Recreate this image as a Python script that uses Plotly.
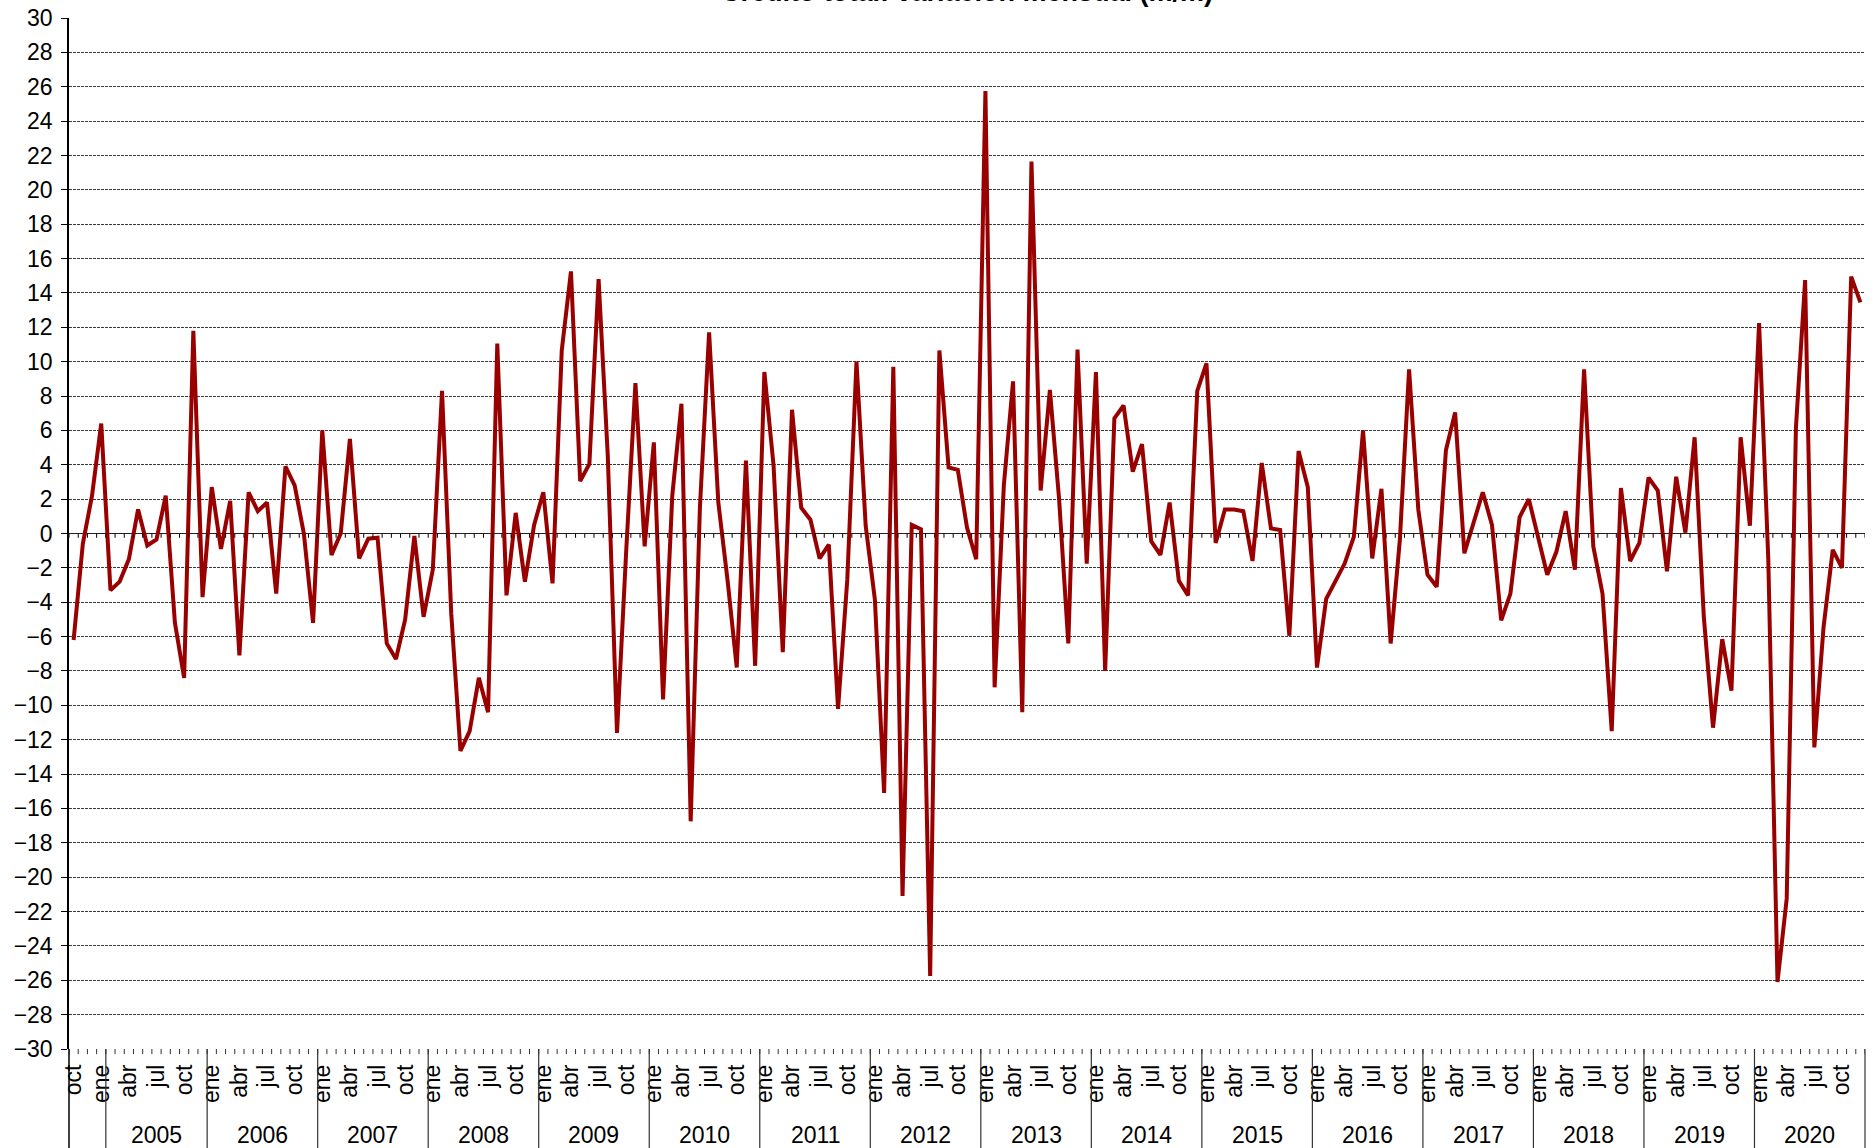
import plotly.graph_objects as go

# ---------------- data ----------------
month_abbr = ["ene", "feb", "mar", "abr", "may", "jun", "jul", "ago", "sep", "oct", "nov", "dic"]
start_month = 10  # series starts in October 2004
years = [2005, 2006, 2007, 2008, 2009, 2010, 2011, 2012, 2013, 2014, 2015, 2016, 2017, 2018, 2019, 2020]

v2004 = [-6.2, -0.6, 2.2]
v2005 = [6.4, -3.3, -2.8, -1.5, 1.4, -0.7, -0.35, 2.2, -5.2, -8.4, 11.8, -3.7]
v2006 = [2.7, -0.9, 1.9, -7.1, 2.4, 1.3, 1.8, -3.5, 3.9, 2.8, 0.0, -5.2]
v2007 = [6.0, -1.25, 0.0, 5.5, -1.45, -0.3, -0.25, -6.4, -7.3, -5.0, -0.15, -4.85]
v2008 = [-2.1, 8.3, -4.65, -12.65, -11.5, -8.4, -10.4, 11.05, -3.6, 1.2, -2.8, 0.5]
v2009 = [2.4, -2.9, 10.65, 15.25, 3.05, 4.05, 14.8, 4.5, -11.6, -1.0, 8.75, -0.75]
v2010 = [5.3, -9.65, 2.2, 7.55, -16.75, 1.5, 11.7, 1.8, -2.7, -7.8, 4.25, -7.7]
v2011 = [9.4, 3.95, -6.9, 7.2, 1.5, 0.8, -1.45, -0.65, -10.2, -2.7, 10.0, 0.45]
v2012 = [-3.85, -15.1, 9.7, -21.1, 0.5, 0.25, -25.75, 10.65, 3.85, 3.7, 0.35, -1.5]
v2013 = [25.75, -8.95, 2.8, 8.85, -10.4, 21.65, 2.5, 8.35, 2.0, -6.4, 10.7, -1.75]
v2014 = [9.4, -8.0, 6.7, 7.45, 3.6, 5.2, -0.45, -1.25, 1.8, -2.75, -3.6, 8.3]
v2015 = [9.9, -0.55, 1.4, 1.4, 1.3, -1.6, 4.1, 0.3, 0.2, -5.95, 4.8, 2.7]
v2016 = [-7.8, -3.8, -2.8, -1.75, -0.2, 6.0, -1.45, 2.6, -6.4, -0.35, 9.55, 1.4]
v2017 = [-2.4, -3.1, 4.85, 7.05, -1.15, 0.55, 2.4, 0.5, -5.05, -3.5, 0.95, 2.0]
v2018 = [-0.15, -2.4, -1.05, 1.3, -2.1, 9.55, -0.75, -3.5, -11.5, 2.65, -1.6, -0.55]
v2019 = [3.25, 2.5, -2.2, 3.3, 0.05, 5.6, -4.85, -11.3, -6.15, -9.15, 5.6, 0.45]
v2020 = [12.25, -1.5, -26.1, -21.25, 6.15, 14.75, -12.45, -5.45, -0.95, -2.0, 14.95, 13.45]

title_text = "Crédito total: variación mensual (m/m)"

# ---------------- build ----------------
values = (v2004 + v2005 + v2006 + v2007 + v2008 + v2009 + v2010 + v2011 + v2012
          + v2013 + v2014 + v2015 + v2016 + v2017 + v2018 + v2019 + v2020)
n = len(values)
x = list(range(n))
month_of = [(start_month - 1 + i) % 12 for i in range(n)]
tickvals = [i for i in range(n) if i % 3 == 0]
ticktext = [month_abbr[month_of[i]] for i in tickvals]

jan_idx = [i for i in range(n) if month_of[i] == 0]
# group boundaries (category index where each labelled year group starts)
group_start = [jan_idx[0] + 1] + jan_idx[1:]
group_end = jan_idx[1:] + [n]

FONT = "Liberation Sans, Arial, sans-serif"
FS = 23
LINE_COLOR = "#990000"

fig = go.Figure()
fig.add_trace(go.Scatter(x=x, y=values, mode="lines",
                         line=dict(color=LINE_COLOR, width=4),
                         hoverinfo="skip", showlegend=False))

shapes = []
# small tick marks on the zero (category) axis and along the bottom
for j in range(n + 1):
    shapes.append(dict(type="line", xref="x", yref="y", x0=j - 0.5, x1=j - 0.5,
                       y0=0, y1=-0.25, line=dict(color="black", width=1)))
    shapes.append(dict(type="line", xref="x", yref="paper", x0=j - 0.5, x1=j - 0.5,
                       y0=0, y1=-0.005, line=dict(color="#333", width=1)))
# year-group separator lines
for b in group_start:
    shapes.append(dict(type="line", xref="x", yref="paper", x0=b - 0.5, x1=b - 0.5,
                       y0=0, y1=-0.11, line=dict(color="#333", width=1.2)))
# left axis extension and right edge
shapes.append(dict(type="line", xref="paper", yref="paper", x0=0, x1=0, y0=0, y1=-0.11,
                   line=dict(color="black", width=1.5)))
shapes.append(dict(type="line", xref="paper", yref="paper", x0=1, x1=1, y0=0, y1=-0.11,
                   line=dict(color="#333", width=1.2)))

annotations = []
for yr, s, e in zip(years, group_start, group_end):
    annotations.append(dict(x=(s + e - 1) / 2, y=-0.0836, xref="x", yref="paper",
                            text=str(yr), showarrow=False, yanchor="middle",
                            font=dict(family=FONT, size=FS, color="black")))
annotations.append(dict(x=0.5, y=1.0, xref="paper", yref="paper", text="<b>" + title_text + "</b>",
                        showarrow=False, yanchor="bottom", yshift=9,
                        font=dict(family=FONT, size=27, color="black")))

fig.update_layout(
    width=1872, height=1148,
    margin=dict(l=69, r=7, t=18, b=99, autoexpand=False),
    paper_bgcolor="white", plot_bgcolor="white",
    font=dict(family=FONT, size=FS, color="black"),
    shapes=shapes, annotations=annotations,
    showlegend=False,
)
fig.update_xaxes(range=[-0.5, n - 0.5], tickmode="array", tickvals=tickvals, ticktext=ticktext,
                 tickangle=-90, ticks="", showgrid=False, zeroline=False, showline=False,
                 automargin=False,
                 ticklabelstandoff=10, tickfont=dict(family=FONT, size=FS, color="black"))
fig.update_yaxes(range=[-30, 30], dtick=2, tick0=0, showgrid=True, gridcolor="#3a3a3a",
                 gridwidth=1, griddash="3px,1px", zeroline=True, zerolinecolor="#222",
                 zerolinewidth=1.2, showline=True, linecolor="black", linewidth=1.5,
                 ticks="outside", ticklen=6, tickcolor="black", ticklabelstandoff=4,
                 automargin=False,
                 tickfont=dict(family=FONT, size=FS, color="black"))

fig.write_html("out.html", config={"displayModeBar": False},
               post_script="document.body.style.margin='0';document.body.style.overflow='hidden';")
